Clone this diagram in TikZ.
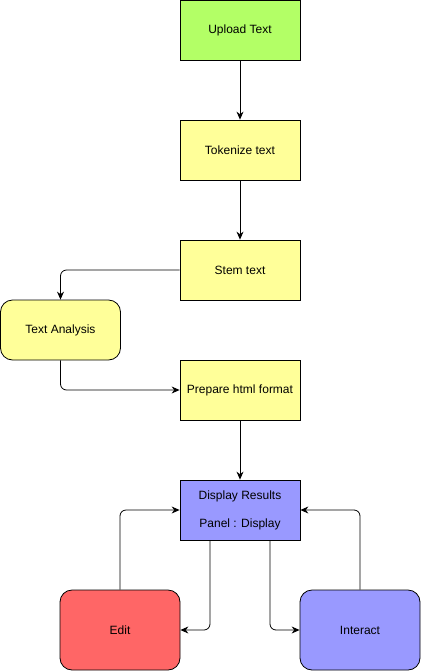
\documentclass[tikz,border=0pt]{standalone}
\usepackage{fontspec}
\setmainfont{Liberation Sans}
\usetikzlibrary{arrows.meta}
\definecolor{cgreen}{HTML}{B3FF66}
\definecolor{cyellow}{HTML}{FFFF99}
\definecolor{cblue}{HTML}{9999FF}
\definecolor{cred}{HTML}{FF6666}
\tikzset{
  box/.style={draw=black, line width=0.8pt, minimum width=120pt, minimum height=60pt, inner sep=0pt, font=\fontsize{12}{14}\selectfont, align=center},
  rbox/.style={box, rounded corners=12pt},
  conn/.style={draw=black, line width=0.8pt, rounded corners=6pt, -{Stealth[length=8pt,width=7pt]}},
}
\begin{document}
\begin{tikzpicture}[x=1pt,y=-1pt]
\useasboundingbox (0,0) rectangle (422,672);
\node[box, fill=cgreen] (upload) at (240,30) {Upload Text};
\node[box, fill=cyellow] (token) at (240,150) {Tokenize text};
\node[box, fill=cyellow] (stem) at (240,270) {Stem text};
\node[rbox, fill=cyellow] (analysis) at (60.5,330) {Text Analysis};
\node[box, fill=cyellow] (prep) at (240,390) {Prepare html format};
\node[box, fill=cblue] (disp) at (240,510) {Display Results\\[14pt]Panel : Display};
\node[rbox, fill=cred, minimum height=80pt] (edit) at (120,630) {Edit};
\node[rbox, fill=cblue, minimum height=80pt] (inter) at (360,630) {Interact};

\draw[conn] (upload) -- (token);
\draw[conn] (token) -- (stem);
\draw[conn] (stem.west) -| (analysis.north);
\draw[conn] (analysis.south) |- (prep.west);
\draw[conn] (prep) -- (disp);
\draw[conn] (edit.north) |- (disp.west);
\draw[conn] (inter.north) |- (disp.east);
\draw[conn] ([xshift=-30pt]disp.south) |- (edit.east);
\draw[conn] ([xshift=30pt]disp.south) |- (inter.west);
\end{tikzpicture}
\end{document}
